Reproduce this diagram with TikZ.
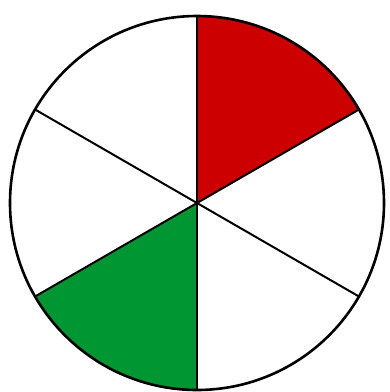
\documentclass[tikz,border=0pt]{standalone}
\usetikzlibrary{calc}
\definecolor{wedgered}{RGB}{204,0,0}
\definecolor{wedgegreen}{RGB}{0,150,50}
\begin{document}
\begin{tikzpicture}[x=1pt,y=-1pt,
  spoke/.style={draw=black,line width=2pt},
  rim/.style={draw=black,line width=2.6pt}]
\useasboundingbox (0,0) rectangle (390,392);
\coordinate (c) at (197,203);
\def\R{187}
\fill[wedgered] (c) -- ++(-90:\R) arc[start angle=-90,end angle=-30,radius=\R] -- cycle;
\fill[wedgegreen] (c) -- ++(90:\R) arc[start angle=90,end angle=150,radius=\R] -- cycle;
\foreach \a/\n in {-90/s1,-30/s2,30/s3,90/s4,150/s5,210/s6}{
  \coordinate (\n) at ($(c)+(\a:\R)$);
}
\foreach \n in {s1,s2,s3,s4,s5,s6}{\draw[spoke] (c) -- (\n);}
\draw[rim] (c) circle[radius=\R];
\end{tikzpicture}
\end{document}
